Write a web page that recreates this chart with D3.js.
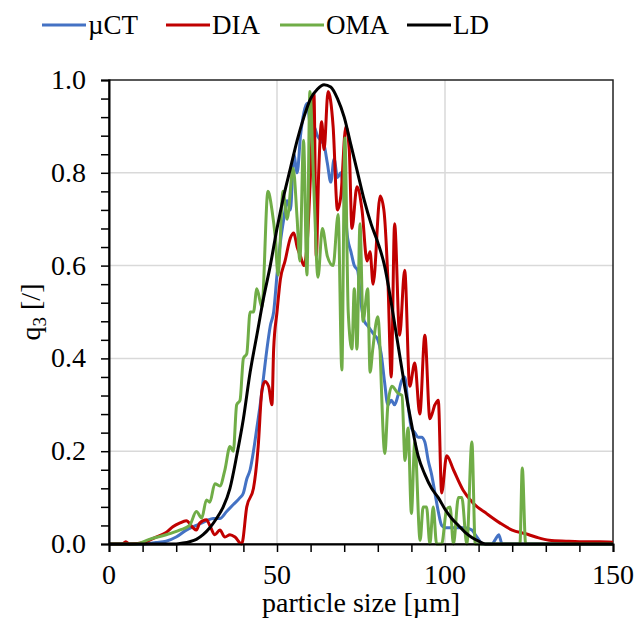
<!DOCTYPE html>
<html>
 <head>
  <meta charset="utf-8" />
  <style>
   text { font-family: "Liberation Serif" !important; }
  </style>
  <script src="https://cdnjs.cloudflare.com/ajax/libs/d3/7.9.0/d3.min.js"></script>
 </head>
 <body style="margin:0">
  <svg width="634" height="635"></svg>
  <script>
   // series, [particle size µm, q3]
   const seriesNames = ["\u00b5CT", "DIA", "OMA", "LD"];
   const seriesColors = ["#4472C4", "#C00000", "#70AD47", "#000000"];

   const muCT = [[0,0],[10,0],[14,0.003],[17,0.006],[20,0.015],[23,0.03],[26,0.04],[29,0.05],[31,0.055],[33,0.055],
    [35,0.07],[37,0.085],[39,0.1],[40,0.11],[41,0.14],[42,0.16],[43,0.2],[44,0.25],[45,0.3],[46,0.36],[47,0.42],
    [48,0.47],[49,0.5],[50,0.58],[51,0.65],[52,0.7],[53,0.74],[54,0.72],[55,0.84],[56,0.8],[57,0.88],[58,0.93],
    [59,0.95],[60,0.9],[61,0.9],[62,0.88],[63,0.87],[64,0.86],[65,0.82],[66,0.78],[67,0.83],[68,0.79],[69,0.8],
    [70,0.74],[71,0.66],[72,0.63],[73,0.6],[74,0.59],[75,0.52],[76,0.48],[77,0.47],[78,0.46],[79,0.45],[80,0.44],
    [81,0.41],[82,0.35],[83,0.3],[84,0.31],[85,0.3],[86,0.32],[87,0.35],[88,0.36],[89,0.3],[90,0.25],[91,0.24],
    [92,0.23],[93,0.23],[94,0.22],[95,0.18],[96,0.15],[97,0.11],[98,0.07],[99,0.04],[100,0.035],[102,0.035],
    [104,0.035],[106,0.035],[108,0.03],[109,0.02],[110,0.01],[111,0],[114,0],[115,0.01],[116,0.02],[117,0],[150,0]];

   const dia = [[0,0],[4,0],[5,0.005],[6,0],[10,0.003],[14,0.015],[17,0.025],[19,0.037],[21,0.045],[23,0.05],
    [25,0.035],[26,0.03],[27,0.045],[29,0.052],[30,0.04],[31.5,0.02],[33,0.03],[34.5,0.015],[36,0.02],[37.5,0.015],
    [39.5,0],[41,0.08],[43,0.12],[44.4,0.21],[45.5,0.33],[46.4,0.35],[47.5,0.34],[48.5,0.3],[49,0.42],[50,0.5],
    [51,0.57],[52.4,0.61],[54,0.66],[55,0.67],[56,0.64],[57,0.62],[58,0.6],[59,0.65],[60,0.8],[61,0.97],[61.7,0.62],
    [62.4,0.8],[63.3,0.91],[64,0.85],[65.2,0.975],[66.7,0.9],[68,0.72],[69,0.75],[70.5,0.9],[71.5,0.85],[72.3,0.68],
    [73.8,0.77],[75.3,0.72],[76.8,0.61],[77.7,0.63],[78.6,0.56],[80.7,0.75],[81.8,0.72],[83,0.57],[84,0.36],
    [85,0.69],[86.5,0.45],[88,0.59],[89.5,0.34],[91,0.39],[92.5,0.28],[94,0.45],[95.5,0.27],[97,0.3],[98,0.31],
    [99,0.11],[100.5,0.19],[102.5,0.16],[105.4,0.116],[108.4,0.088],[112.5,0.065],[116.4,0.045],[120,0.03],
    [124,0.022],[127,0.015],[131,0.008],[136,0.006],[140,0.005],[146,0.005],[150,0.004]];

   const oma = [[0,0],[8,0],[12,0.01],[17,0.02],[21,0.03],[24,0.04],[26,0.07],[27.6,0.056],[29,0.095],[30,0.09],
    [31.5,0.13],[33,0.125],[34.5,0.16],[36,0.21],[37,0.2],[38,0.3],[39,0.31],[40,0.4],[41,0.41],[42,0.5],[43,0.5],
    [44,0.55],[45.5,0.51],[47.3,0.76],[48.5,0.72],[49.5,0.66],[50.3,0.58],[51.8,0.76],[53,0.7],[54.8,0.81],[56,0.7],
    [56.8,0.61],[57.9,0.87],[58.9,0.58],[59.8,0.975],[61,0.76],[62.2,0.575],[63.5,0.68],[65,0.62],[66.7,0.6],
    [68.2,0.71],[69.3,0.375],[70.2,0.875],[71.2,0.5],[72.3,0.42],[73,0.55],[73.8,0.42],[74.7,0.69],[75.6,0.48],
    [77,0.55],[77.7,0.37],[78.5,0.42],[80,0.49],[82.1,0.195],[83,0.3],[84.2,0.34],[86,0.325],[87.2,0.32],
    [88.1,0.18],[89,0.25],[90,0.066],[91,0.22],[92.6,0.008],[93.5,0.08],[94.5,0.08],[95.5,0],[96.5,0.08],
    [97.5,0],[99,0],[100.5,0.075],[101.5,0.08],[102.5,0],[104,0.1],[105,0.1],[106.5,0],[108,0.22],[109,0],
    [122.3,0],[123,0.164],[124,0],[150,0]];

   const ld = [[0,0],[20,0],[22,0.002],[24,0.005],[26,0.01],[28,0.02],[30,0.035],[32,0.055],[34,0.08],[36,0.12],
    [38,0.19],[40,0.27],[42,0.37],[44,0.45],[46,0.53],[48,0.6],[50,0.68],[52,0.75],[54,0.81],[56,0.87],[58,0.92],
    [60,0.96],[62,0.98],[64,0.99],[66,0.985],[68,0.96],[70,0.92],[72,0.86],[74,0.8],[76,0.74],[78,0.69],[80,0.65],
    [82,0.6],[84,0.52],[86,0.43],[88,0.34],[90,0.26],[92,0.19],[94,0.15],[96,0.12],[98,0.1],[100,0.075],
    [102,0.055],[104,0.04],[106,0.025],[108,0.014],[110,0.006],[112,0],[150,0]];

   const xTicks = [0, 50, 100, 150];
   const yTicks = [0, 0.2, 0.4, 0.6, 0.8, 1.0];

   const svg = d3.select("svg");
   const plotLeft = 109, plotRight = 613, plotTop = 80, plotBottom = 544;

   const x = d3.scaleLinear().domain([0, 150]).range([plotLeft, plotRight]);
   const y = d3.scaleLinear().domain([0, 1]).range([plotBottom, plotTop]);

   // grid
   svg.append("g").selectAll("line")
    .data(xTicks.slice(1, -1))
    .enter().append("line")
    .attr("x1", d => x(d)).attr("x2", d => x(d))
    .attr("y1", plotTop).attr("y2", plotBottom)
    .attr("stroke", "#d9d9d9").attr("stroke-width", 1.5);
   svg.append("g").selectAll("line")
    .data(yTicks.slice(1, -1))
    .enter().append("line")
    .attr("x1", plotLeft).attr("x2", plotRight)
    .attr("y1", d => y(d)).attr("y2", d => y(d))
    .attr("stroke", "#d9d9d9").attr("stroke-width", 1.5);

   // plot frame
   svg.append("rect")
    .attr("x", plotLeft).attr("y", plotTop)
    .attr("width", plotRight - plotLeft).attr("height", plotBottom - plotTop)
    .attr("fill", "none").attr("stroke", "#222").attr("stroke-width", 1.5);

   svg.append("clipPath").attr("id", "plot")
    .append("rect")
    .attr("x", plotLeft).attr("y", plotTop - 10)
    .attr("width", plotRight - plotLeft).attr("height", plotBottom - plotTop + 12);

   const line = d3.line()
    .x(d => x(d[0]))
    .y(d => y(d[1]))
    .curve(d3.curveMonotoneX);

   const series = [muCT, dia, oma, ld];
   svg.append("g").attr("clip-path", "url(#plot)")
    .selectAll("path")
    .data(series)
    .enter().append("path")
    .attr("d", d => line(d))
    .attr("fill", "none")
    .attr("stroke", (d, i) => seriesColors[i])
    .attr("stroke-width", 3)
    .attr("stroke-linejoin", "round");

   // axes
   const xAxis = d3.axisBottom(x).tickValues(d3.range(0, 151, 10)).tickSize(8).tickFormat("");
   const gx = svg.append("g").attr("transform", `translate(0,${plotBottom})`).call(xAxis);
   const yAxis = d3.axisLeft(y).tickValues(d3.range(0, 1.001, 0.04)).tickSize(8).tickFormat("");
   const gy = svg.append("g").attr("transform", `translate(${plotLeft},0)`).call(yAxis);
   [gx, gy].forEach(g => {
    g.select(".domain").attr("stroke", "#000").attr("stroke-width", 2);
    g.selectAll(".tick line").attr("stroke", "#000").attr("stroke-width", 1.5);
    g.selectAll(".tick text").remove();
   });

   svg.append("g").selectAll("text")
    .data(xTicks)
    .enter().append("text")
    .attr("x", d => x(d))
    .attr("y", 584)
    .attr("text-anchor", "middle")
    .attr("font-size", 28)
    .style("font-family", "Liberation Serif")
    .text(d => d);

   svg.append("g").selectAll("text")
    .data(yTicks)
    .enter().append("text")
    .attr("x", 86)
    .attr("y", d => y(d) + 9)
    .attr("text-anchor", "end")
    .attr("font-size", 28)
    .style("font-family", "Liberation Serif")
    .text(d => d.toFixed(1));

   svg.append("text")
    .attr("x", (plotLeft + plotRight) / 2)
    .attr("y", 612)
    .attr("text-anchor", "middle")
    .attr("font-size", 28)
    .style("font-family", "Liberation Serif")
    .text("particle size [\u00b5m]");

   const yl = svg.append("text")
    .attr("transform", `translate(40,${(plotTop + plotBottom) / 2}) rotate(-90)`)
    .attr("text-anchor", "middle")
    .attr("font-size", 28)
    .style("font-family", "Liberation Serif");
   yl.append("tspan").text("q");
   yl.append("tspan").attr("font-size", 19).attr("dy", 6).text("3");
   yl.append("tspan").attr("dy", -6).text(" [/]");

   // legend
   const legendX = [42, 166, 280, 407];
   const legend = svg.append("g").selectAll("g")
    .data(seriesNames)
    .enter().append("g")
    .attr("transform", (d, i) => `translate(${legendX[i]},25)`);
   legend.append("line")
    .attr("x1", 0).attr("x2", 44)
    .attr("stroke", (d, i) => seriesColors[i])
    .attr("stroke-width", 3);
   legend.append("text")
    .attr("x", 46)
    .attr("y", 9)
    .attr("font-size", 27)
    .style("font-family", "Liberation Serif")
    .text(d => d);
  </script>
 </body>
</html>
